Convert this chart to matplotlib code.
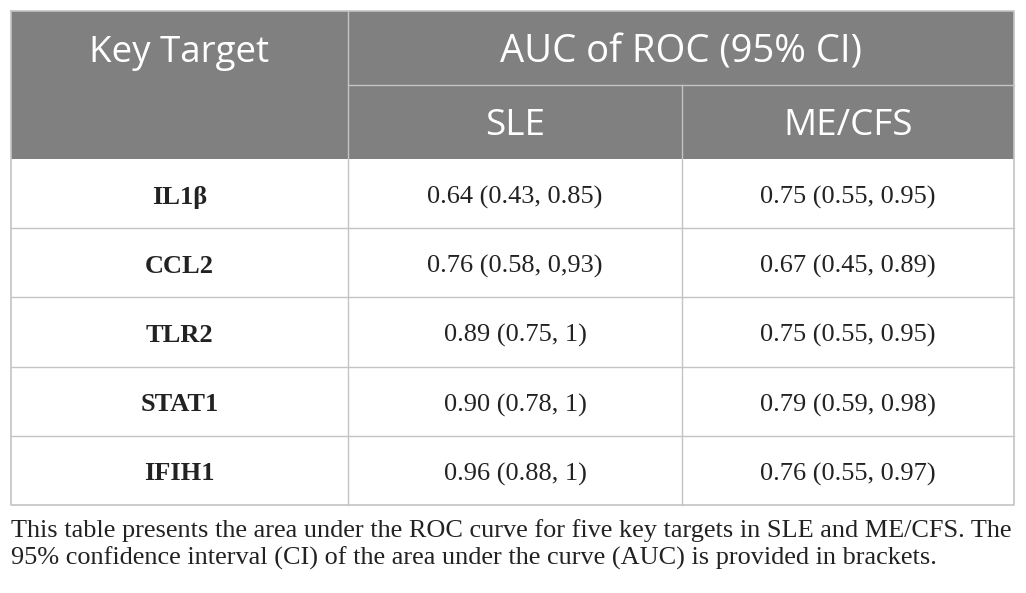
import matplotlib.pyplot as plt
from matplotlib.patches import Rectangle

targets = ["IL1β", "CCL2", "TLR2", "STAT1", "IFIH1"]
sle = ["0.64 (0.43, 0.85)", "0.76 (0.58, 0,93)", "0.89 (0.75, 1)",
       "0.90 (0.78, 1)", "0.96 (0.88, 1)"]
mecfs = ["0.75 (0.55, 0.95)", "0.67 (0.45, 0.89)", "0.75 (0.55, 0.95)",
         "0.79 (0.59, 0.98)", "0.76 (0.55, 0.97)"]
header_top = "AUC of ROC (95% CI)"
header_sub = ["SLE", "ME/CFS"]
caption = ["This table presents the area under the ROC curve for five key targets in SLE and ME/CFS. The",
           "95% confidence interval (CI) of the area under the curve (AUC) is provided in brackets."]

fig = plt.figure(figsize=(10.26, 5.93), dpi=100)
ax = fig.add_axes([0, 0, 1, 1])
ax.set_xlim(0, 1026)
ax.set_ylim(593, 0)
ax.axis("off")

# table geometry (pixels)
x0, x1, x2, x3 = 11, 348, 682, 1014
y_top, y_mid, y_head = 11, 85, 159
row_h = 69.2
n = len(targets)
y_bot = y_head + n * row_h

grid = "#c4c4c4"
head_bg = "#808080"

ax.add_patch(Rectangle((x0, y_top), x3 - x0, y_head - y_top, color=head_bg, lw=0))

# header lines
ax.plot([x1, x3], [y_mid, y_mid], color=grid, lw=1)
ax.plot([x1, x1], [y_top, y_bot], color=grid, lw=1)
ax.plot([x2, x2], [y_mid, y_bot], color=grid, lw=1)
ax.plot([x0, x3, x3, x0, x0], [y_top, y_top, y_bot, y_bot, y_top], color=grid, lw=1.2)
for i in range(1, n):
    y = y_head + i * row_h
    ax.plot([x0, x3], [y, y], color=grid, lw=1)

hfont = dict(family="Open Sans", fontsize=26.5, color="white", ha="center", va="baseline")
ax.text((x0 + x1) / 2, 62, "Key Target", **hfont)
ax.text((x1 + x3) / 2, 62, header_top, fontsize=27.5,
        **{k: v for k, v in hfont.items() if k != "fontsize"})
ax.text((x1 + x2) / 2, 135, header_sub[0], **hfont)
ax.text((x2 + x3) / 2, 135, header_sub[1], **hfont)

bfont = dict(family="Liberation Serif", fontsize=19, color="#222222", ha="center", va="baseline")
for i in range(n):
    yc = y_head + (i + 0.5) * row_h + 10
    ax.text((x0 + x1) / 2, yc, targets[i], fontweight="bold", **bfont)
    ax.text((x1 + x2) / 2, yc, sle[i], **bfont)
    ax.text((x2 + x3) / 2, yc, mecfs[i], **bfont)

for j, line in enumerate(caption):
    ax.text(x0, 537 + j * 28, line, family="Liberation Serif", fontsize=18.9,
            color="#222222", ha="left", va="baseline")

fig.savefig("out.png", dpi=100)
